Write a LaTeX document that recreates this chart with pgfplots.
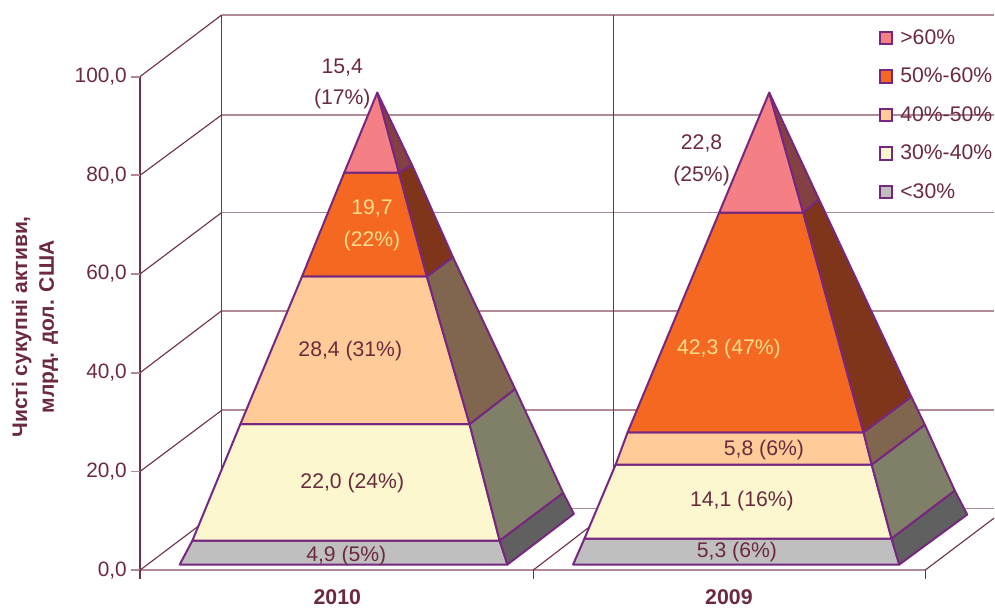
\documentclass[border=0pt]{standalone}
\usepackage{fontspec}
\setmainfont{Liberation Sans}
\usepackage{pgfplots}
\pgfplotsset{compat=1.18}
\definecolor{txt}{HTML}{6B2A3E}
\definecolor{lite}{HTML}{FFDD8A}
\definecolor{gridc}{HTML}{B08A96}
\definecolor{thin}{HTML}{6E3346}
\definecolor{pur}{HTML}{77277F}
\definecolor{fA}{HTML}{F47F84}
\definecolor{fB}{HTML}{F46822}
\definecolor{fC}{HTML}{FFCC99}
\definecolor{fD}{HTML}{FCF7CF}
\definecolor{fE}{HTML}{BFBFBF}
\definecolor{sA}{HTML}{834143}
\definecolor{sB}{HTML}{7F351A}
\definecolor{sC}{HTML}{80664F}
\definecolor{sD}{HTML}{808068}
\definecolor{sE}{HTML}{606060}
\newcommand{\fs}{\fontsize{15.9}{24}\selectfont}
\tikzset{lab/.style={font=\fs,text=txt,align=center,anchor=center,inner sep=0pt}}
\pgfplotsset{
  pyr/.style={forget plot,draw=pur,line width=1.5pt,line join=round,mark=none,fill=#1},
  wallh/.style={forget plot,draw=gridc,line width=1.35pt,mark=none},
  wallv/.style={forget plot,draw=thin,line width=0.85pt,mark=none},
}
\begin{document}
\begin{tikzpicture}
\begin{axis}[
  scale only axis,width=589.35pt,height=370.5pt,
  xmin=139.5,xmax=925.3,ymin=0,ymax=100,clip=false,
  axis x line=bottom,axis y line=left,
  x axis line style={-,draw=gridc,line width=1.35pt},
  y axis line style={-,draw=thin,line width=0.85pt},
  xtick={337,729},xticklabels={2010,2009},
  x tick style={draw=none},
  xticklabel style={font=\fontsize{16}{18}\selectfont\bfseries,text=txt,yshift=-5pt},
  ytick=\empty,
  extra y ticks={0,20,40,60,80,100},
  extra y tick style={tick label style={font=\fontsize{15.6}{18}\selectfont,text=txt}},
  major tick length=6.4pt,
  tick align=outside,
  /pgf/number format/.cd,fixed,fixed zerofill,precision=1,use comma,assume math mode=true,
  /pgfplots/.cd,
  every axis y label/.style={at={(axis cs:34.5,49.3)},rotate=90,anchor=center,align=center,
    font=\fontsize{15.8}{20}\selectfont\bfseries,text=txt},
  ylabel={Чисті сукупні активи,\\млрд. дол. США},
  legend style={at={(axis cs:878.5,110.1)},anchor=north west,draw=none,fill=none,
    font=\fs,text=txt,row sep=12.25pt,inner sep=0pt},
  legend cell align=left,
  legend image code/.code={\draw[#1] (0pt,-4.7pt) rectangle (9.6pt,4.7pt);\path[draw=none,fill=none] (0pt,0pt) -- (13.6pt,0pt);},
]
\path (axis cs:-0.6,-7.146) rectangle (axis cs:994.4,115.53);
% legend
\addlegendimage{draw=pur,line width=1.5pt,fill=fA}\addlegendentry{>60\%}
\addlegendimage{draw=pur,line width=1.5pt,fill=fB}\addlegendentry{50\%-60\%}
\addlegendimage{draw=pur,line width=1.5pt,fill=fC}\addlegendentry{40\%-50\%}
\addlegendimage{draw=pur,line width=1.5pt,fill=fD}\addlegendentry{30\%-40\%}
\addlegendimage{draw=pur,line width=1.5pt,fill=fE}\addlegendentry{<30\%}
% back wall
\addplot[wallh] coordinates {(221.3,112.5)(994.4,112.5)};
\addplot[wallh] coordinates {(221.3,92.25)(994.4,92.25)};
\addplot[wallh] coordinates {(221.3,72.47)(994.4,72.47)};
\addplot[wallh] coordinates {(221.3,52.57)(994.4,52.57)};
\addplot[wallh] coordinates {(221.3,32.39)(994.4,32.39)};
\addplot[wallh] coordinates {(221.3,12.49)(994.4,12.49)};
\addplot[wallv] coordinates {(221.3,12.49)(221.3,112.5)};
\addplot[wallv] coordinates {(613.3,12.49)(613.3,112.5)};
\addplot[wallv] coordinates {(139.5,0)(221.3,12.49)};
\addplot[wallv] coordinates {(139.5,20)(221.3,32.39)};
\addplot[wallv] coordinates {(139.5,40)(221.3,52.57)};
\addplot[wallv] coordinates {(139.5,60)(221.3,72.47)};
\addplot[wallv] coordinates {(139.5,80)(221.3,92.25)};
\addplot[wallv] coordinates {(139.5,100)(221.3,112.5)};
\addplot[wallv] coordinates {(533,0)(613.3,12.49)};
\addplot[wallv] coordinates {(925.3,0)(994.4,10.56)};
% tick marks
\addplot[wallh] coordinates {(131,0)(139.5,0)};
\addplot[wallh] coordinates {(131,20)(139.5,20)};
\addplot[wallh] coordinates {(131,40)(139.5,40)};
\addplot[wallh] coordinates {(131,60)(139.5,60)};
\addplot[wallh] coordinates {(131,80)(139.5,80)};
\addplot[wallh] coordinates {(131,100)(139.5,100)};
\addplot[wallv] coordinates {(139.5,0)(139.5,-1.7)};
\addplot[wallv] coordinates {(533,0)(533,-1.7)};
\addplot[wallv] coordinates {(925.3,0)(925.3,-1.7)};
% 2010 front
\addplot[pyr=fE] coordinates {(179.3,1.15)(507.3,1.15)(499.5,6.01)(192,6.01)} --cycle;
\addplot[pyr=fD] coordinates {(192,6.01)(499.5,6.01)(469.4,29.60)(240,29.60)} --cycle;
\addplot[pyr=fC] coordinates {(240,29.60)(469.4,29.60)(426.7,59.51)(301.7,59.51)} --cycle;
\addplot[pyr=fB] coordinates {(301.7,59.51)(426.7,59.51)(398.7,80.57)(344,80.57)} --cycle;
\addplot[pyr=fA] coordinates {(344,80.57)(398.7,80.57)(377,96.76)} --cycle;
% 2010 side
\addplot[pyr=sE] coordinates {(507.3,1.15)(573.8,11.42)(563,15.67)(499.5,6.01)} --cycle;
\addplot[pyr=sD] coordinates {(499.5,6.01)(563,15.67)(515,36.72)(469.4,29.60)} --cycle;
\addplot[pyr=sC] coordinates {(469.4,29.60)(515,36.72)(452.7,63.44)(426.7,59.51)} --cycle;
\addplot[pyr=sB] coordinates {(426.7,59.51)(452.7,63.44)(411.7,82.13)(398.7,80.57)} --cycle;
\addplot[pyr=sA] coordinates {(398.7,80.57)(411.7,82.13)(377,96.76)} --cycle;
% 2009 front
\addplot[pyr=fE] coordinates {(573,1.15)(899.5,1.15)(891.7,6.42)(584.4,6.42)} --cycle;
\addplot[pyr=fD] coordinates {(584.4,6.42)(891.7,6.42)(871.9,21.40)(615.6,21.40)} --cycle;
\addplot[pyr=fC] coordinates {(615.6,21.40)(871.9,21.40)(863.7,27.94)(627.6,27.94)} --cycle;
\addplot[pyr=fB] coordinates {(627.6,27.94)(863.7,27.94)(803.3,72.47)(719.3,72.47)} --cycle;
\addplot[pyr=fA] coordinates {(719.3,72.47)(803.3,72.47)(769.3,96.76)} --cycle;
% 2009 side
\addplot[pyr=sE] coordinates {(899.5,1.15)(967.5,11.28)(955,16.13)(891.7,6.42)} --cycle;
\addplot[pyr=sD] coordinates {(891.7,6.42)(955,16.13)(925,29.49)(871.9,21.40)} --cycle;
\addplot[pyr=sC] coordinates {(871.9,21.40)(925,29.49)(911.5,35.16)(863.7,27.94)} --cycle;
\addplot[pyr=sB] coordinates {(863.7,27.94)(911.5,35.16)(819,75.18)(803.3,72.47)} --cycle;
\addplot[pyr=sA] coordinates {(803.3,72.47)(819,75.18)(769.3,96.76)} --cycle;
% data labels
\node[lab] at (axis cs:342,98.53) {15,4\\(17\%)};
\node[lab,text=lite] at (axis cs:371.7,69.9) {19,7\\(22\%)};
\node[lab] at (axis cs:350,44.38) {28,4 (31\%)};
\node[lab] at (axis cs:352,17.66) {22,0 (24\%)};
\node[lab] at (axis cs:346,2.78) {4,9 (5\%)};
\node[lab] at (axis cs:701.6,83.1) {22,8\\(25\%)};
\node[lab,text=lite] at (axis cs:729,44.78) {42,3 (47\%)};
\node[lab] at (axis cs:764,24.34) {5,8 (6\%)};
\node[lab] at (axis cs:742,14.01) {14,1 (16\%)};
\node[lab] at (axis cs:737,3.69) {5,3 (6\%)};
\end{axis}
\end{tikzpicture}
\end{document}
